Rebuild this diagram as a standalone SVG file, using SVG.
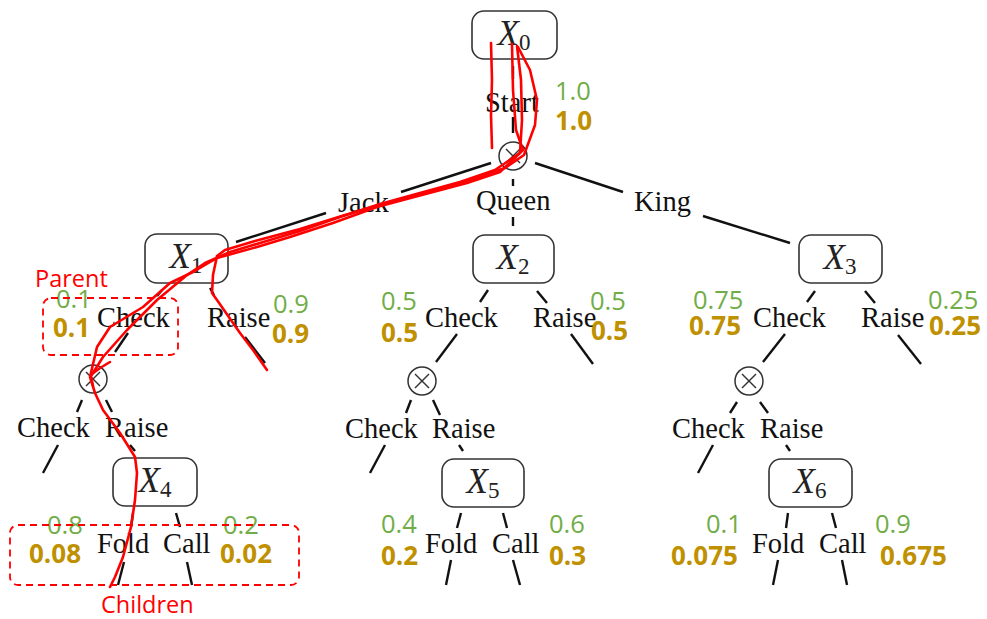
<svg xmlns="http://www.w3.org/2000/svg" width="987" height="619" viewBox="0 0 987 619">
<style>
.bg{fill:#fff}
.box{fill:#fff;stroke:#333;stroke-width:1.6}
.chance{fill:#fff;stroke:#333;stroke-width:1.5}
.cross{stroke:#333;stroke-width:1.4}
.edge{stroke:#111;stroke-width:2.4;fill:none}
.lbl{font-family:"Liberation Serif",serif;font-size:28.5px;fill:#111}
.xl{font-family:"Liberation Serif",serif;font-style:italic;font-size:35px;fill:#222;text-anchor:middle}
.sub{font-style:normal;font-size:23px}
.g{font-family:"Open Sans",sans-serif;font-size:25.5px;fill:#70AD47}
.o{font-family:"Open Sans",sans-serif;font-size:26px;font-weight:bold;fill:#BF9000}
.red{stroke:#FF0000;stroke-width:2.6;fill:none;stroke-linecap:round;stroke-linejoin:round}
.redbox{stroke:#FF0000;stroke-width:1.8;stroke-dasharray:7 5;fill:none}
.redt{font-family:"Open Sans",sans-serif;font-size:23.5px;fill:#FF0000}
</style>
<defs>
<g id="cx"><circle class="chance" r="14"/><line class="cross" x1="-7" y1="-7" x2="7" y2="7"/><line class="cross" x1="-7" y1="7" x2="7" y2="-7"/></g>
</defs>
<rect class="bg" x="0" y="0" width="987" height="619"/>

<g id="connectors">
<line class="edge" x1="513" y1="66" x2="513" y2="79"/>
<line class="edge" x1="513" y1="117" x2="513" y2="133"/>
<line class="edge" x1="491" y1="163" x2="401" y2="192"/>
<line class="edge" x1="326" y1="213" x2="236" y2="242"/>
<line class="edge" x1="513" y1="179" x2="513" y2="186"/>
<line class="edge" x1="513" y1="217" x2="513" y2="226"/>
<line class="edge" x1="535" y1="163" x2="623" y2="192"/>
<line class="edge" x1="703" y1="216" x2="790" y2="243"/>

<line class="edge" x1="162" y1="290" x2="157" y2="296"/>
<line class="edge" x1="128" y1="333" x2="115" y2="352"/>
<line class="edge" x1="210" y1="288" x2="214" y2="295"/>
<line class="edge" x1="245" y1="337" x2="265" y2="363"/>
<line class="edge" x1="82" y1="400" x2="77" y2="412"/>
<line class="edge" x1="106" y1="400" x2="112" y2="412"/>
<line class="edge" x1="58" y1="445" x2="43" y2="473"/>
<line class="edge" x1="130" y1="445" x2="135" y2="451"/>
<line class="edge" x1="133" y1="513" x2="131" y2="527"/>
<line class="edge" x1="124" y1="562" x2="118" y2="585"/>
<line class="edge" x1="176" y1="513" x2="180" y2="527"/>
<line class="edge" x1="187" y1="562" x2="192" y2="585"/>

<line class="edge" x1="488" y1="290" x2="480" y2="302"/>
<line class="edge" x1="457" y1="334" x2="436" y2="362"/>
<line class="edge" x1="537" y1="291" x2="547" y2="303"/>
<line class="edge" x1="571" y1="334" x2="593" y2="364"/>
<line class="edge" x1="411" y1="400" x2="406" y2="413"/>
<line class="edge" x1="433" y1="400" x2="440" y2="415"/>
<line class="edge" x1="385" y1="445" x2="370" y2="473"/>
<line class="edge" x1="459" y1="445" x2="463" y2="451"/>
<line class="edge" x1="461" y1="513" x2="457" y2="528"/>
<line class="edge" x1="451" y1="560" x2="446" y2="585"/>
<line class="edge" x1="503" y1="513" x2="507" y2="528"/>
<line class="edge" x1="513" y1="560" x2="520" y2="585"/>

<line class="edge" x1="815" y1="291" x2="807" y2="302"/>
<line class="edge" x1="785" y1="334" x2="763" y2="362"/>
<line class="edge" x1="865" y1="291" x2="875" y2="303"/>
<line class="edge" x1="898" y1="335" x2="921" y2="364"/>
<line class="edge" x1="737" y1="402" x2="730" y2="413"/>
<line class="edge" x1="760" y1="402" x2="768" y2="413"/>
<line class="edge" x1="713" y1="445" x2="698" y2="473"/>
<line class="edge" x1="786" y1="445" x2="790" y2="451"/>
<line class="edge" x1="788" y1="513" x2="786" y2="528"/>
<line class="edge" x1="778" y1="560" x2="773" y2="585"/>
<line class="edge" x1="832" y1="513" x2="836" y2="528"/>
<line class="edge" x1="842" y1="560" x2="847" y2="585"/>

<text class="lbl" x="485" y="112">Start</text>
<text class="lbl" x="338" y="212">Jack</text>
<text class="lbl" x="476" y="210">Queen</text>
<text class="lbl" x="634" y="211">King</text>
<text class="lbl" x="97" y="327">Check</text>
<text class="lbl" x="207" y="327">Raise</text>
<text class="lbl" x="17" y="437">Check</text>
<text class="lbl" x="105" y="437">Raise</text>
<text class="lbl" x="97" y="553">Fold</text>
<text class="lbl" x="163" y="553">Call</text>
<text class="lbl" x="425" y="327">Check</text>
<text class="lbl" x="533" y="327">Raise</text>
<text class="lbl" x="345" y="438">Check</text>
<text class="lbl" x="432" y="438">Raise</text>
<text class="lbl" x="425" y="553">Fold</text>
<text class="lbl" x="492" y="553">Call</text>
<text class="lbl" x="753" y="327">Check</text>
<text class="lbl" x="861" y="327">Raise</text>
<text class="lbl" x="672" y="438">Check</text>
<text class="lbl" x="760" y="438">Raise</text>
<text class="lbl" x="752" y="553">Fold</text>
<text class="lbl" x="819" y="553">Call</text>
</g>

<g id="X0"><rect class="box" x="472" y="11" width="85" height="48" rx="12"/><text class="xl" x="514" y="45">X<tspan class="sub" dy="5">0</tspan></text></g>
<g id="C0"><use href="#cx" x="513" y="156"/></g>
<g id="X1"><rect class="box" x="145" y="234" width="83" height="49" rx="12"/><text class="xl" x="186" y="268">X<tspan class="sub" dy="5">1</tspan></text></g>
<g id="X2"><rect class="box" x="473" y="235" width="81" height="48" rx="12"/><text class="xl" x="513" y="269">X<tspan class="sub" dy="5">2</tspan></text></g>
<g id="X3"><rect class="box" x="799" y="235" width="83" height="48" rx="12"/><text class="xl" x="840" y="269">X<tspan class="sub" dy="5">3</tspan></text></g>
<g id="C1"><use href="#cx" x="93" y="379"/></g>
<g id="C2"><use href="#cx" x="422" y="381"/></g>
<g id="C3"><use href="#cx" x="749" y="381"/></g>
<g id="X4"><rect class="box" x="113" y="458" width="84" height="48" rx="12"/><text class="xl" x="155" y="492">X<tspan class="sub" dy="5">4</tspan></text></g>
<g id="X5"><rect class="box" x="442" y="459" width="82" height="48" rx="12"/><text class="xl" x="483" y="493">X<tspan class="sub" dy="5">5</tspan></text></g>
<g id="X6"><rect class="box" x="769" y="459" width="83" height="48" rx="12"/><text class="xl" x="810" y="493">X<tspan class="sub" dy="5">6</tspan></text></g>

<g id="probabilities">
<text class="g" x="555" y="100">1.0</text><text class="o" x="555" y="130">1.0</text>
<text class="g" x="56" y="308">0.1</text><text class="o" x="53" y="337">0.1</text>
<text class="g" x="273" y="313">0.9</text><text class="o" x="272" y="343">0.9</text>
<text class="g" x="47" y="534">0.8</text><text class="o" x="29" y="563">0.08</text>
<text class="g" x="223" y="534">0.2</text><text class="o" x="220" y="563">0.02</text>
<text class="g" x="381" y="310">0.5</text><text class="o" x="381" y="342">0.5</text>
<text class="g" x="590" y="310">0.5</text><text class="o" x="591" y="340">0.5</text>
<text class="g" x="381" y="533">0.4</text><text class="o" x="381" y="565">0.2</text>
<text class="g" x="549" y="533">0.6</text><text class="o" x="549" y="565">0.3</text>
<text class="g" x="693" y="309">0.75</text><text class="o" x="689" y="335">0.75</text>
<text class="g" x="928" y="309">0.25</text><text class="o" x="929" y="335">0.25</text>
<text class="g" x="706" y="533">0.1</text><text class="o" x="671" y="565">0.075</text>
<text class="g" x="875" y="533">0.9</text><text class="o" x="880" y="565">0.675</text>
</g>

<g id="annotations">
<rect class="redbox" x="43" y="298" width="135" height="57" rx="8"/>
<rect class="redbox" x="10" y="525" width="289" height="60" rx="8"/>
<text class="redt" x="35" y="287">Parent</text>
<text class="redt" x="101" y="613">Children</text>
<path class="red" d="M491,43 L492,80 L491,115 L492,148"/>
<path class="red" d="M512,44 L513,90 L516,130 L523,150 L500,172 L467,183 L403,200 L377,207 L333,223 L290,237 L257,247 L217,258 L193,272 L170,283 L143,307 L110,327 L97,347 L90,377 L95,393 L103,410 L120,433 L135,457 L137,473 L135,500 L131,527 L123,557 L115,577 L110,587"/>
<path class="red" d="M517,46 L521,80 L522,120 L520,153 L495,170 L460,182 L420,193 L380,204 L340,217 L300,231 L260,243 L230,252 L205,263 L187,275 L157,300 L127,330 L103,357 L91,376 L93,386"/>
<path class="red" d="M518,47 L530,70 L537,100 L535,125 L524,155 L505,168 L470,180 L430,191 L390,202 L345,215 L300,229 L255,241 L225,250 L217,256 L213,275 L212,293 L217,300 L240,333 L253,350 L267,370"/>
<path class="red" d="M110,362 L100,368 L92,374"/>
</g>
</svg>
